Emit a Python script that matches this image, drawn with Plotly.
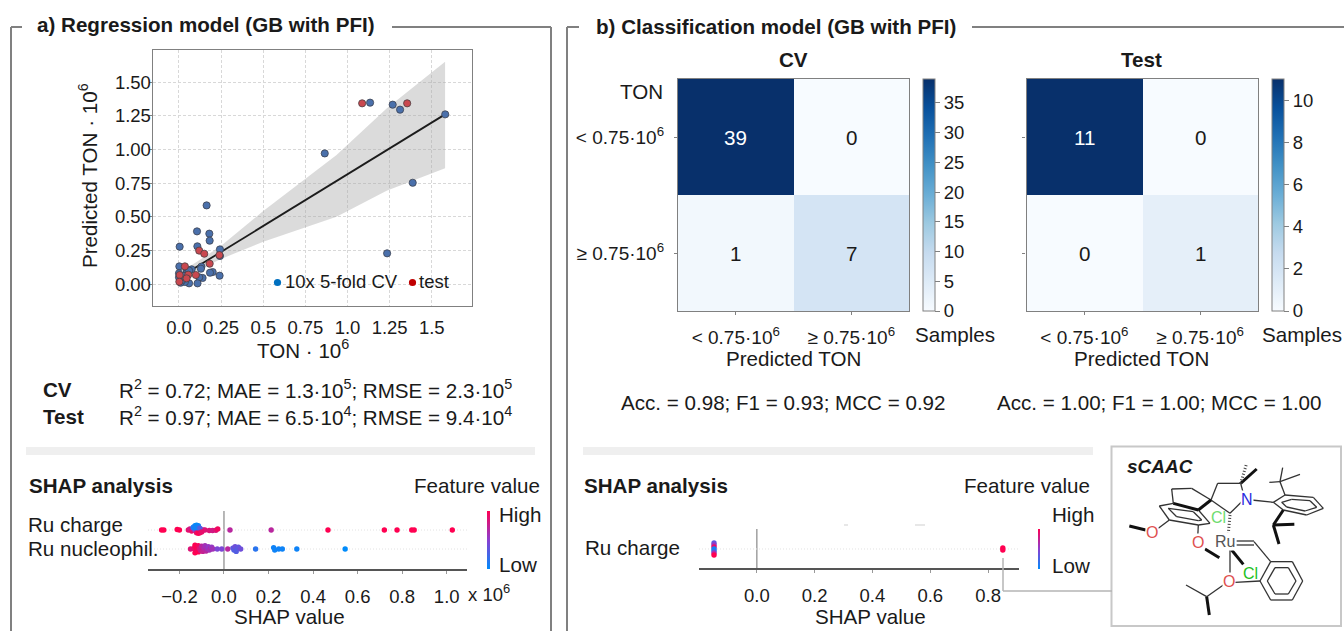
import plotly.graph_objects as go

W, H = 1344, 631
FONT = "Liberation Sans"
INK = "#1a1a1a"
GREY = "#808080"

# ---------- data ----------
cv_ton = [1.58, 1.387, 1.235, 1.134, 1.268, 1.312, 0.865, 0.164, 0.107, 0.18, 0.182, 0.109, 0.004, 0.243, 0.243,
          0.002, 0.133, 0.13, 0.075, 0.045, 0.2, 0.184, 0.241, 0.14, 0.12, 0.11, 0.06, 0.035, 0.0, 0.0, 0.01, 0.02, 0.05, 0.06, 0.03]
cv_pred = [1.26, 0.752, 0.228, 1.347, 1.332, 1.295, 0.97, 0.584, 0.391, 0.374, 0.322, 0.28, 0.277, 0.257, 0.208,
           0.131, 0.129, 0.114, 0.109, 0.104, 0.089, 0.084, 0.062, 0.045, 0.05, 0.005, 0.005, 0.015, 0.08, 0.05, 0.01, 0.03, 0.09, 0.1, 0.06]
test_ton = [1.087, 1.354, 0.12, 0.15, 0.24, 0.182, 0.035, 0.1, 0.055, 0.045, 0.004, 0.002]
test_pred = [1.342, 1.342, 0.248, 0.225, 0.215, 0.151, 0.131, 0.067, 0.069, 0.042, 0.067, 0.017]
fit_x = [0.016, 1.579]
fit_y = [0.059, 1.26]
band_x = [0.026, 0.243, 0.5, 0.935, 1.232, 1.579]
band_low = [0.05, 0.183, 0.314, 0.50, 0.693, 0.859]
band_high = [0.10, 0.277, 0.542, 0.958, 1.304, 1.651]
scatter_xticks = [0, 0.25, 0.5, 0.75, 1.0, 1.25, 1.5]
scatter_xlabels = ["0.0", "0.25", "0.5", "0.75", "1.0", "1.25", "1.5"]
scatter_yticks = [0, 0.25, 0.5, 0.75, 1.0, 1.25, 1.5]
scatter_ylabels = ["0.00", "0.25", "0.50", "0.75", "1.00", "1.25", "1.50"]

class_labels = ["&lt; 0.75·10<sup>6</sup>", "≥ 0.75·10<sup>6</sup>"]
cm_cv = [[39, 0], [1, 7]]
cm_test = [[11, 0], [0, 1]]

charge_x = [-0.28, -0.27, -0.21, -0.20, -0.16, -0.153, -0.145, -0.138, -0.13, -0.123, -0.115, -0.108, -0.10, -0.093, -0.085,
            -0.13, -0.123, -0.115, -0.138, -0.13, -0.123, -0.115, -0.108, -0.123, -0.115, -0.108, -0.10,
            -0.066, -0.051, -0.036, -0.028, 0.027, 0.212, 0.467, 0.72, 0.777, 0.843, 0.854, 1.025]
charge_off = [0, 0, 0.05, 0, 0, 0.12, -0.1, 0.2, 0, 0, 0, 0, 0, 0, 0,
              0.45, 0.5, 0.45, 0.3, 0.25, 0.25, 0.25, 0.2, -0.3, -0.35, -0.3, -0.2,
              -0.05, -0.05, -0.02, 0.12, 0, 0, 0, 0, 0, 0, 0, 0]
charge_val = [1, 1, 1, 1, 0.9, 0.8, 0.9, 0.2, 0.5, 0.3, 0.25, 0.4, 0.6, 0.7, 0.85,
              0.0, 0.0, 0.05, 0.1, 0.05, 0.05, 0.1, 0.3, 0.9, 1, 0.95, 0.9,
              0.85, 0.8, 0.85, 0.95, 0.7, 0.7, 1, 1, 1, 1, 1, 1]
nuc_x = [-0.15, -0.135, -0.13, -0.13, -0.125, -0.12, -0.115, -0.115, -0.11, -0.105, -0.10, -0.095, -0.09, -0.085, -0.08,
         -0.075, -0.07, -0.065, -0.06, -0.055, -0.05, -0.03, -0.01, 0.017, 0.04, 0.045, 0.05, 0.055, 0.06, 0.065, 0.075,
         0.142, 0.223, 0.228, 0.246, 0.262, 0.327, 0.544]
nuc_off = [0, 0.05, 0.4, -0.4, 0.15, -0.2, 0.35, -0.3, 0.05, -0.15, 0.3, -0.25, 0.1, 0.35, -0.2,
           0.05, 0.25, -0.1, 0.1, 0.2, 0, 0, 0, 0, 0.1, -0.1, 0.25, -0.25, 0.05, 0.2, 0,
           0, 0.15, -0.1, 0, 0, 0, 0]
nuc_val = [0.85, 0.9, 1, 1, 1, 0.95, 0.95, 1, 0.85, 0.8, 0.7, 0.75, 0.65, 0.6, 0.7,
           0.6, 0.55, 0.6, 0.65, 0.55, 0.6, 0.45, 0.45, 0.7, 0.35, 0.3, 0.4, 0.3, 0.3, 0.35, 0.4,
           0.15, 0.05, 0.05, 0.05, 0.05, 0.05, 0.0]
charge_b_x = [-0.148, -0.148, -0.148, -0.148, -0.148, -0.148, -0.148, 0.851, 0.851]
charge_b_off = [0.32, 0.21, 0.1, 0.0, -0.1, -0.21, -0.32, 0.05, -0.05]
charge_b_val = [0.35, 0.55, 0.9, 0.05, 0.15, 0.6, 1.0, 1, 1]

shap_a_ticks = [-0.2, 0, 0.2, 0.4, 0.6, 0.8, 1.0]
shap_a_labels = ["−0.2", "0.0", "0.2", "0.4", "0.6", "0.8", "1.0"]
shap_b_ticks = [0, 0.2, 0.4, 0.6, 0.8]
shap_b_labels = ["0.0", "0.2", "0.4", "0.6", "0.8"]

metrics_reg = [("CV", "R<sup>2</sup> = 0.72; MAE = 1.3·10<sup>5</sup>; RMSE = 2.3·10<sup>5</sup>"),
               ("Test", "R<sup>2</sup> = 0.97; MAE = 6.5·10<sup>4</sup>; RMSE = 9.4·10<sup>4</sup>")]
metrics_clf = ["Acc. = 0.98; F1 = 0.93; MCC = 0.92", "Acc. = 1.00; F1 = 1.00; MCC = 1.00"]

SHAP_SCALE = [[0, "#008bfb"], [0.5, "#8a3fd1"], [1, "#ff0051"]]
TXT = 20.6
TICK = 18.5
SWARM = 0.5

# ---------- helpers ----------
def px(x): return x / W
def py(y): return 1 - y / H
def dom_x(a, b): return [a / W, b / W]
def dom_y(top, bottom): return [1 - bottom / H, 1 - top / H]

annotations, shapes = [], []
def text(x, y, s, size=TXT, anchor="left", bold=False, color=INK, italic=False, rot=0):
    if bold: s = f"<b>{s}</b>"
    if italic: s = f"<i>{s}</i>"
    annotations.append(dict(x=px(x), y=py(y - 1), xref="paper", yref="paper", text=s, showarrow=False,
                            xanchor=anchor, yanchor="middle", textangle=rot,
                            font=dict(family=FONT, size=size, color=color), borderpad=0, align=anchor))
def seg(x0, y0, x1, y1, color=GREY, width=2, dash=None):
    shapes.append(dict(type="line", xref="paper", yref="paper", x0=px(x0), y0=py(y0), x1=px(x1), y1=py(y1),
                       line=dict(color=color, width=width, dash=dash or "solid"), layer="above"))
def rect(x0, y0, x1, y1, fill=None, line=None, width=0):
    shapes.append(dict(type="rect", xref="paper", yref="paper", x0=px(x0), y0=py(y0), x1=px(x1), y1=py(y1),
                       fillcolor=fill or "rgba(0,0,0,0)", line=dict(color=line or "rgba(0,0,0,0)", width=width), layer="below"))
def dot(cx, cy, r, color):
    shapes.append(dict(type="circle", xref="paper", yref="paper", x0=px(cx - r), y0=py(cy - r), x1=px(cx + r), y1=py(cy + r),
                       fillcolor=color, line=dict(width=0), layer="above"))

fig = go.Figure()

# ---------- a) scatter ----------
fig.add_trace(go.Scatter(x=band_x + band_x[::-1], y=band_high + band_low[::-1], fill="toself", mode="lines",
                         line=dict(width=0), fillcolor="rgba(170,170,170,0.42)", xaxis="x", yaxis="y", showlegend=False))
fig.add_trace(go.Scatter(x=fit_x, y=fit_y, mode="lines", line=dict(color="#1c1c1c", width=1.8), xaxis="x", yaxis="y", showlegend=False))
fig.add_trace(go.Scatter(x=cv_ton, y=cv_pred, mode="markers", xaxis="x", yaxis="y", showlegend=False,
                         marker=dict(size=7.2, color="#4a70ab", line=dict(color="#3d4350", width=0.8))))
fig.add_trace(go.Scatter(x=test_ton, y=test_pred, mode="markers", xaxis="x", yaxis="y", showlegend=False,
                         marker=dict(size=7.2, color="#c9484f", line=dict(color="#4b3f42", width=0.8))))

# ---------- b) confusion matrices ----------
for i, (cm, ax, cb_x, ticks) in enumerate([(cm_cv, "2", 923, [0, 5, 10, 15, 20, 25, 30, 35]),
                                           (cm_test, "3", 1272, [0, 2, 4, 6, 8, 10])]):
    zmax = max(max(r) for r in cm)
    fig.add_trace(go.Heatmap(z=cm, x=[0, 1], y=[0, 1], colorscale="Blues", zmin=0, zmax=zmax, xaxis="x" + ax, yaxis="y" + ax,
                             xgap=0, ygap=0,
                             colorbar=dict(x=cb_x / W, xanchor="left", y=py(79), yanchor="top", lenmode="pixels", len=232,
                                           thicknessmode="pixels", thickness=12, xpad=0, ypad=0, outlinecolor=GREY, outlinewidth=1,
                                           tickvals=ticks, ticks="outside", ticklen=5, tickcolor=GREY,
                                           tickfont=dict(family=FONT, size=TICK, color=INK))))
    for r, row in enumerate(cm):
        for c, v in enumerate(row):
            annotations.append(dict(x=c, y=r, xref="x" + ax, yref="y" + ax, text=str(v), showarrow=False,
                                    font=dict(family=FONT, size=TXT, color="white" if v > zmax / 2 else INK)))

# ---------- SHAP ----------
fig.add_trace(go.Scatter(x=charge_x + nuc_x, y=[1 + SWARM * o for o in charge_off] + [SWARM * o for o in nuc_off], mode="markers",
                         xaxis="x4", yaxis="y4", showlegend=False,
                         marker=dict(size=5.4, color=charge_val + nuc_val, colorscale=SHAP_SCALE, cmin=0, cmax=1, line=dict(width=0),
                                     colorbar=dict(x=486.5 / W, xanchor="left", y=py(511), yanchor="top", lenmode="pixels", len=58,
                                                   thicknessmode="pixels", thickness=2.5, xpad=0, ypad=0, outlinewidth=0,
                                                   showticklabels=False, ticks=""))))
fig.add_trace(go.Scatter(x=charge_b_x, y=charge_b_off, mode="markers", xaxis="x5", yaxis="y5", showlegend=False,
                         marker=dict(size=5.4, color=charge_b_val, colorscale=SHAP_SCALE, cmin=0, cmax=1, line=dict(width=0),
                                     colorbar=dict(x=1037.5 / W, xanchor="left", y=py(529), yanchor="top", lenmode="pixels", len=40,
                                                   thicknessmode="pixels", thickness=2, xpad=0, ypad=0, outlinewidth=0,
                                                   showticklabels=False, ticks=""))))

# ---------- axes ----------
tickf = dict(family=FONT, size=TICK, color=INK)
grid = dict(showgrid=True, gridcolor="#d8d8d8", griddash="3px,2px", gridwidth=1, zeroline=False)
box = dict(showline=True, linecolor=GREY, linewidth=1.2, mirror=True)
layout_axes = dict(
    xaxis=dict(domain=dom_x(152.7, 471.7), range=[-0.156, 1.737], tickvals=scatter_xticks, ticktext=scatter_xlabels, anchor="y",
               ticks="", tickfont=tickf, ticklabelstandoff=5, **grid, **box),
    yaxis=dict(domain=dom_y(50, 305.7), range=[-0.161, 1.738], tickvals=scatter_yticks, ticktext=scatter_ylabels, anchor="x",
               ticks="outside", ticklen=3, tickcolor=GREY, tickfont=tickf, ticklabelstandoff=-6, **grid, **box),
)
hm_tick = dict(family=FONT, size=19, color=INK)
for ax, l, r, showy in [("2", 678, 909, True), ("3", 1026.5, 1258, False)]:
    layout_axes["xaxis" + ax] = dict(domain=dom_x(l, r), range=[-0.5, 1.5], tickvals=[0, 1], ticktext=class_labels, anchor="y" + ax,
                                     ticks="outside", ticklen=3, tickcolor=GREY, tickfont=hm_tick,
                                     ticklabelstandoff=6, showgrid=False, zeroline=False, **box)
    layout_axes["yaxis" + ax] = dict(domain=dom_y(79, 311), range=[1.5, -0.5], tickvals=[0, 1], ticktext=class_labels,
                                     showticklabels=showy, anchor="x" + ax, ticks="outside", ticklen=3, tickcolor=GREY,
                                     tickfont=hm_tick, ticklabelstandoff=6, showgrid=False, zeroline=False, **box)
def shap_axes(ax, l, r, rng, top, bottom, yrng, tv, tt):
    layout_axes["xaxis" + ax] = dict(domain=dom_x(l, r), range=rng, tickvals=tv, ticktext=tt, anchor="y" + ax, showline=True,
                                     linecolor="#555555", linewidth=1.5, ticks="outside", ticklen=3, tickcolor="#999999",
                                     tickfont=tickf, ticklabelstandoff=7, showgrid=False,
                                     zeroline=False)
    layout_axes["yaxis" + ax] = dict(domain=dom_y(top, bottom), range=yrng, anchor="x" + ax, showline=False, showticklabels=False,
                                     ticks="", showgrid=False, zeroline=False)
shap_axes("4", 148, 467, [-0.341, 1.091], 511, 569, [-1.05, 2], shap_a_ticks, shap_a_labels)
shap_axes("5", 699, 1019, [-0.2, 0.907], 529, 568, [-1.0, 1.05], shap_b_ticks, shap_b_labels)

def data_line(ax, x0, x1, y0, y1, color, width, dash="solid"):
    shapes.append(dict(type="line", xref="x" + ax, yref="y" + ax, x0=x0, x1=x1, y0=y0, y1=y1,
                       line=dict(color=color, width=width, dash=dash), layer="below"))
data_line("4", 0, 0, -1.05, 2, "#a6a6a6", 1.6)
data_line("5", 0, 0, -1.0, 1.05, "#a6a6a6", 1.6)
for yy in (0, 1):
    data_line("4", -0.341, 1.091, yy, yy, "#e2e2e2", 1, "1px,2px")
data_line("5", -0.2, 0.907, 0, 0, "#e2e2e2", 1, "1px,2px")

# ---------- panel frames ----------
for (x0, y0, x1, y1) in [(11, 631, 11, 27), (11, 27, 22, 27), (392, 27, 551, 27), (551, 27, 551, 631),
                         (567, 631, 567, 27), (567, 27, 579, 27), (972, 27, 1344, 27)]:
    seg(x0, y0, x1, y1, GREY, 2)
rect(26, 447, 535, 455, fill="#efefef")
rect(583, 447, 1093, 455, fill="#efefef")
seg(844, 525, 848, 525, "#cfcfcf", 1)
seg(915, 525, 925, 525, "#cfcfcf", 1)

# ---------- text ----------
text(36, 26, "a) Regression model (GB with PFI)", bold=True)
text(595, 27, "b) Classification model (GB with PFI)", bold=True)
text(88, 177, "Predicted TON · 10<sup>6</sup>", anchor="center", rot=-90)
text(303, 350, "TON · 10<sup>6</sup>", anchor="center")
dot(277.5, 282.5, 3.6, "#0070c0")
text(284, 283, "10x 5-fold CV", TICK)
dot(412.5, 282.5, 3.6, "#c00000")
text(418, 283, "test", TICK)
for (lab, body), y in zip(metrics_reg, (390, 417)):
    text(42, y, lab, bold=True)
    text(118, y, body)
text(28, 486, "SHAP analysis", bold=True)
text(541, 486, "Feature value", anchor="right")
text(498, 515, "High")
text(498, 565, "Low")
text(27, 525, "Ru charge")
text(27, 549, "Ru nucleophil.")
text(467, 594, "x 10<sup>6</sup>", TICK)
text(289, 617, "SHAP value", anchor="center")

text(793, 60, "CV", anchor="center", bold=True)
text(1141, 60, "Test", anchor="center", bold=True)
text(664, 93, "TON", anchor="right")
text(793, 359, "Predicted TON", anchor="center")
text(1141, 359, "Predicted TON", anchor="center")
text(914, 335, "Samples")
text(1261, 335, "Samples")
text(620, 404, metrics_clf[0])
text(996, 404, metrics_clf[1])
text(583, 486, "SHAP analysis", bold=True)
text(1091, 486, "Feature value", anchor="right")
text(1051, 515, "High")
text(1051, 566, "Low")
text(584, 548, "Ru charge")
text(870, 617, "SHAP value", anchor="center")
seg(1003, 558, 1003, 591, "#b5b5b5", 1.5)
seg(1003, 591, 1112, 591, "#b5b5b5", 1.5)

# ---------- sCAAC inset (structure drawing; zoom-pixel geometry of the inset) ----------
rect(1111.5, 446.5, 1341, 626, fill="white", line="#c8c8c8", width=2)
def Mx(X): return 1110 + X / 3
def My(Y): return 445 + Y / 3
def bonds(lst, width=1.3, color="#333333", dash=None):
    for (a, b, c, d) in lst:
        seg(Mx(a), My(b), Mx(c), My(d), color, width, dash)
thin = [(303, 165, 323, 115), (323, 115, 392, 115), (392, 115, 400, 145), (395, 170, 360, 205), (360, 205, 303, 165),
        (425, 165, 490, 172), (490, 172, 525, 150), (525, 150, 610, 157), (610, 157, 640, 190), (640, 190, 590, 210),
        (590, 210, 520, 195), (520, 195, 490, 172), (515, 172, 545, 163), (545, 163, 600, 167), (600, 167, 620, 187),
        (620, 187, 585, 198), (585, 198, 530, 186), (530, 186, 515, 172),
        (525, 150, 510, 110), (510, 110, 518, 68), (510, 110, 570, 88), (510, 110, 478, 112),
        (303, 165, 245, 130), (245, 130, 185, 132), (185, 132, 190, 175), (190, 175, 148, 183), (148, 183, 178, 225),
        (178, 225, 265, 240), (265, 240, 300, 235), (300, 235, 265, 195), (175, 190, 200, 215), (200, 215, 265, 227),
        (265, 227, 275, 225), (275, 225, 250, 200), (250, 200, 175, 190),
        (178, 225, 145, 250), (265, 240, 263, 278), (380, 288, 432, 288), (380, 300, 432, 300), (432, 290, 482, 350),
        (482, 350, 547, 350), (547, 350, 578, 408), (578, 408, 547, 465), (547, 465, 482, 465), (482, 465, 450, 408),
        (450, 408, 482, 350), (495, 368, 535, 368), (535, 368, 558, 408), (558, 408, 535, 447), (535, 447, 495, 447),
        (495, 447, 472, 408), (472, 408, 495, 368),
        (360, 310, 360, 390), (375, 412, 450, 408), (340, 420, 290, 455), (290, 455, 228, 420)]
bonds(thin)
bold = [(392, 115, 440, 72), (190, 175, 265, 195), (265, 195, 303, 165), (520, 195, 490, 240), (490, 240, 553, 238),
        (490, 240, 507, 297), (107, 255, 58, 243), (285, 312, 328, 338), (365, 315, 400, 358), (290, 455, 298, 510)]
bonds(bold, width=3, color="#111111")
bonds([(392, 115, 410, 55), (360, 210, 355, 265)], width=3, color="#444444", dash="1px,2px")
text(1126, 467, "sCAAC", 19, bold=True, italic=True)
for X, Y, s, c, bg in [(410, 163, "N", "#2a2ae0", "white"), (127, 262, "O", "#e05050", "white"), (263, 293, "O", "#e05050", "white"),
                       (357, 408, "O", "#e05050", "white"), (325, 217, "Cl", "#6fdc6f", "rgba(0,0,0,0)"),
                       (345, 290, "Ru", "#555555", "white"), (420, 385, "Cl", "#22c022", "rgba(0,0,0,0)")]:
    annotations.append(dict(x=px(Mx(X)), y=py(My(Y)), xref="paper", yref="paper", text=s, showarrow=False,
                            xanchor="center", yanchor="middle", bgcolor=bg, borderpad=0,
                            font=dict(family=FONT, size=16, color=c)))

fig.update_layout(width=W, height=H, margin=dict(l=0, r=0, t=0, b=0), paper_bgcolor="white", plot_bgcolor="white",
                  font=dict(family=FONT, color=INK), showlegend=False, annotations=annotations, shapes=shapes, **layout_axes)
fig.write_html("out.html", config=dict(displayModeBar=False),
               post_script="document.body.style.margin='0';document.body.style.overflow='hidden';")
